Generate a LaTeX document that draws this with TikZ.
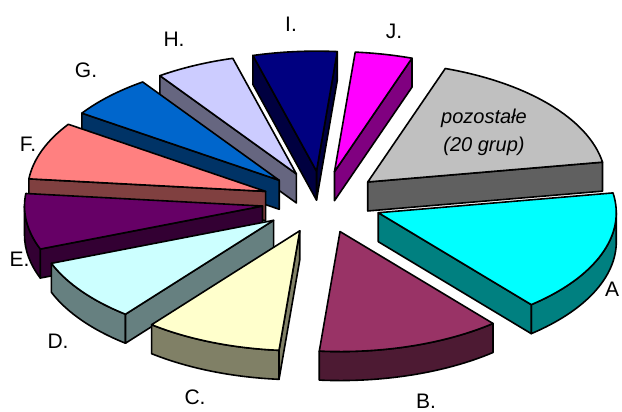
\documentclass[tikz,border=0pt]{standalone}
\usepackage{fontspec}
\setmainfont{Liberation Sans}
\definecolor{grayT}{HTML}{C0C0C0}\definecolor{grayS}{HTML}{606060}
\definecolor{aT}{HTML}{00FFFF}\definecolor{aS}{HTML}{008080}
\definecolor{bT}{HTML}{993366}\definecolor{bS}{HTML}{4D1A33}
\definecolor{cT}{HTML}{FFFFCC}\definecolor{cS}{HTML}{808066}
\definecolor{dT}{HTML}{CCFFFF}\definecolor{dS}{HTML}{668080}
\definecolor{eT}{HTML}{660066}\definecolor{eS}{HTML}{330033}
\definecolor{fT}{HTML}{FF8080}\definecolor{fS}{HTML}{804040}
\definecolor{gT}{HTML}{0066CC}\definecolor{gS}{HTML}{003366}
\definecolor{hT}{HTML}{CCCCFF}\definecolor{hS}{HTML}{666680}
\definecolor{iT}{HTML}{000080}\definecolor{iS}{HTML}{000040}
\definecolor{jT}{HTML}{FF00FF}\definecolor{jS}{HTML}{800080}
\newcommand\pieslice[5]{%
  \pgfmathsetmacro\pmidang{(#2+#3)/2}%
  \pgfmathsetmacro\pox{322+60*cos(\pmidang)}%
  \pgfmathsetmacro\poy{210+31*sin(\pmidang)}%
  \coordinate (#1) at (\pox,\poy);%
  \pgfmathsetmacro\angA{max(#2,-180)}%
  \pgfmathsetmacro\angB{min(#3,0)}%
  \ifdim\angA pt<\angB pt
    \filldraw[face,fill=#5] ([shift={(#1)}]\angA:238pt and 120pt)
      arc[start angle=\angA, end angle=\angB, x radius=238pt, y radius=120pt]
      -- ++(0,-29)
      arc[start angle=\angB, end angle=\angA, x radius=238pt, y radius=120pt]
      -- cycle;
  \fi
  \pgfmathparse{cos(#2)>0 ? 1 : 0}%
  \ifdim\pgfmathresult pt>0.5pt
    \filldraw[face,fill=#5] (#1) -- ([shift={(#1)}]#2:238pt and 120pt)
      -- ++(0,-29) -- ([yshift=-29pt]#1) -- cycle;
  \fi
  \pgfmathparse{cos(#3)<0 ? 1 : 0}%
  \ifdim\pgfmathresult pt>0.5pt
    \filldraw[face,fill=#5] (#1) -- ([shift={(#1)}]#3:238pt and 120pt)
      -- ++(0,-29) -- ([yshift=-29pt]#1) -- cycle;
  \fi
  \filldraw[face,fill=#4] (#1) -- ([shift={(#1)}]#2:238pt and 120pt)
    arc[start angle=#2, end angle=#3, x radius=238pt, y radius=120pt] -- cycle;
}
\begin{document}
\begin{tikzpicture}[x=1pt,y=1pt,
  face/.style={draw=black,line width=1.6pt,line join=round},
  lab/.style={inner sep=0pt,font=\fontsize{21}{25}\selectfont}]
\useasboundingbox (0,0) rectangle (622,412);
% labels
\node[lab] (lA) at (612,123) {A};
\node[lab] (lB) at (426,11) {B.};
\node[lab] (lC) at (195,15) {C.};
\node[lab] (lD) at (58,71) {D.};
\node[lab] (lE) at (19.5,153) {E.};
\node[lab] (lF) at (28,268) {F.};
\node[lab] (lG) at (86,342) {G.};
\node[lab] (lH) at (174,373) {H.};
\node[lab] (lI) at (291,388) {I.};
\node[lab] (lJ) at (394,381) {J.};
% slices, back to front
\pieslice{sI}{85}{105.5}{iT}{iS}
\pieslice{sJ}{71}{85}{jT}{jS}
\pieslice{sH}{105.5}{125}{hT}{hS}
\pieslice{sG}{125}{146}{gT}{gS}
\pieslice{sP}{9.5}{71}{grayT}{grayS}
\pieslice{sF}{146}{174}{fT}{fS}
\pieslice{sE}{-186}{-159}{eT}{eS}
\pieslice{sA}{-50}{9.5}{aT}{aS}
\pieslice{sD}{-159}{-128.5}{dT}{dS}
\pieslice{sC}{-128.5}{-95}{cT}{cS}
\pieslice{sB}{-95}{-50}{bT}{bS}
\node[inner sep=0pt,align=center,font=\fontsize{20}{28}\selectfont\itshape] (lP) at (484,280) {pozostałe\\(20 grup)};
\end{tikzpicture}
\end{document}
